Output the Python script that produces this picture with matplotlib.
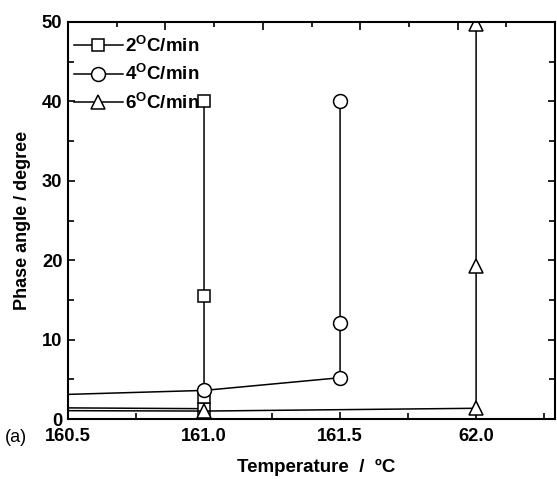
import numpy as np
import matplotlib
matplotlib.use('Agg')
import matplotlib.pyplot as plt
from matplotlib.ticker import MultipleLocator, FixedLocator

plt.rcParams['font.family'] = ['Liberation Sans', 'DejaVu Sans']
plt.rcParams['font.weight'] = 'bold'
plt.rcParams['mathtext.fontset'] = 'custom'
plt.rcParams['mathtext.rm'] = 'Liberation Sans:bold'
plt.rcParams['mathtext.bf'] = 'Liberation Sans:bold'

# data (first points lie left of the visible range)
temp_2 = [160.0, 161.0, 161.0, 161.0, 161.0]
phase_2 = [1.5, 1.3, 2.8, 15.5, 40.0]

temp_4 = [160.0, 161.0, 161.5, 161.5, 161.5]
phase_4 = [2.6, 3.6, 5.2, 12.1, 40.0]

temp_6 = [160.0, 161.0, 162.0, 162.0, 162.0]
phase_6 = [1.1, 1.0, 1.35, 19.3, 49.8]

labels = [r'2$^{\mathbf{O}}$C/min', r'4$^{\mathbf{O}}$C/min', r'6$^{\mathbf{O}}$C/min']
xtick_vals = [160.5, 161.0, 161.5, 162.0]
xtick_labels = ['160.5', '161.0', '161.5', '62.0']

fig = plt.figure(figsize=(5.57, 4.79), dpi=100)
ax = fig.add_axes([68 / 557, 1 - 419 / 479, 487 / 557, 397 / 479])

style = dict(color='black', lw=1.1, mfc='white', mec='black', mew=1.1)
ax.plot(temp_2, phase_2, marker='s', ms=8, label=labels[0], **style)
ax.plot(temp_4, phase_4, marker='o', ms=10, label=labels[1], **style)
ax.plot(temp_6, phase_6, marker='^', ms=10, label=labels[2], **style)

ax.set_xlim(160.5, 162.29)
ax.set_ylim(0, 50)
ax.set_xticks(xtick_vals)
ax.set_xticklabels(xtick_labels)
ax.xaxis.set_minor_locator(MultipleLocator(0.25))
ax.yaxis.set_major_locator(MultipleLocator(10))
ax.yaxis.set_minor_locator(MultipleLocator(5))
ax.tick_params(which='both', direction='in', labelsize=13.2, width=1.2, right=True, top=False)
ax.tick_params(axis='x', pad=6.5)
ax.tick_params(axis='y', pad=4)
ax.tick_params(which='major', length=5)
ax.tick_params(which='minor', length=4)
for s in ax.spines.values():
    s.set_linewidth(1.5)

# top axis has its own tick spacing
ax_top = ax.twiny()
ax_top.set_xlim(0, 5)
ax_top.xaxis.set_major_locator(FixedLocator([1, 2, 3, 4]))
ax_top.xaxis.set_minor_locator(MultipleLocator(0.5))
ax_top.tick_params(which='both', direction='in', labeltop=False, width=1.2)
ax_top.tick_params(which='major', length=6)
ax_top.tick_params(which='minor', length=3.5)
for s in ax_top.spines.values():
    s.set_visible(False)

ax.set_ylabel('Phase angle / degree', fontsize=13, fontweight='bold', labelpad=8)
fig.text(316 / 557, 1 - 467 / 479, 'Temperature  /  ºC', fontsize=13.5, fontweight='bold',
         ha='center', va='center')
fig.text(5 / 557, 1 - 438 / 479, '(a)', fontsize=13, fontweight='normal', va='center')

ax.legend(loc='upper left', bbox_to_anchor=(-0.015, 1.0), frameon=False, fontsize=13.5,
          handlelength=2.6, handletextpad=0.15, labelspacing=0.4, borderaxespad=0.3)

fig.savefig('out.png', dpi=100)
